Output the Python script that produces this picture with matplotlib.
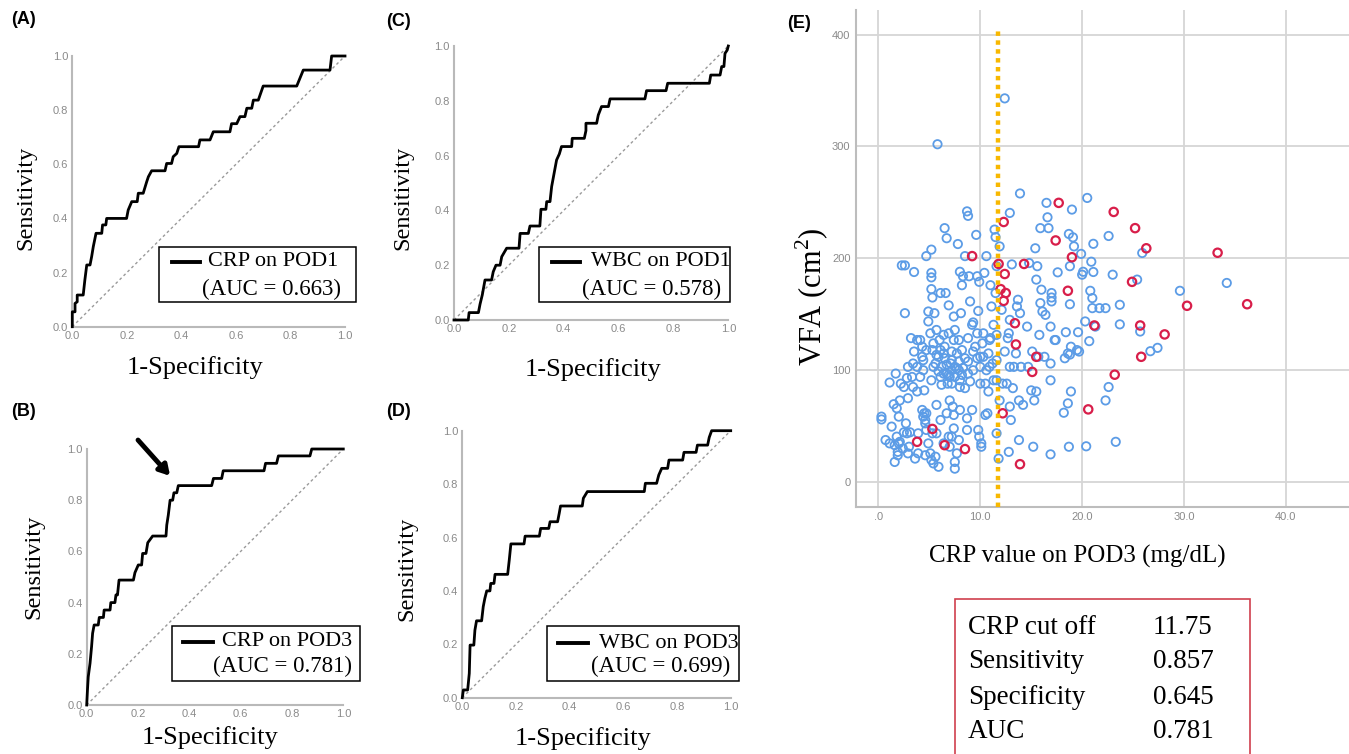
import matplotlib
matplotlib.use("Agg")
import matplotlib.pyplot as plt
from matplotlib.patches import Rectangle
from matplotlib.lines import Line2D

plt.rcParams['font.family'] = ['Liberation Serif', 'DejaVu Serif']
plt.rcParams['mathtext.fontset'] = 'custom'
plt.rcParams['mathtext.rm'] = 'Liberation Serif'

W, H = 1349, 754

# ROC curves (1-specificity, sensitivity)
fpr_a = [0, 0, 0.01, 0.01, 0.018, 0.018, 0.04, 0.046, 0.053, 0.065, 0.071, 0.077, 0.087, 0.108,
         0.111, 0.123, 0.126, 0.199, 0.205, 0.218, 0.238, 0.242, 0.26, 0.273, 0.279, 0.291,
         0.34, 0.346, 0.364, 0.37, 0.383, 0.391, 0.463, 0.468, 0.505, 0.517, 0.578, 0.584,
         0.603, 0.615, 0.633, 0.64, 0.658, 0.664, 0.682, 0.7, 0.823, 0.847, 0.945, 0.951, 1.0]
tpr_a = [0, 0.055, 0.055, 0.086, 0.092, 0.117, 0.117, 0.172, 0.228, 0.228, 0.259, 0.296, 0.345,
         0.345, 0.376, 0.376, 0.40, 0.40, 0.431, 0.462, 0.462, 0.493, 0.493, 0.536, 0.554, 0.576,
         0.576, 0.603, 0.603, 0.628, 0.64, 0.665, 0.665, 0.69, 0.69, 0.72, 0.72, 0.75, 0.75,
         0.776, 0.776, 0.807, 0.807, 0.837, 0.837, 0.889, 0.889, 0.948, 0.948, 1.0, 1.0]

fpr_c = [0, 0.052, 0.055, 0.089, 0.095, 0.103, 0.113, 0.137, 0.143, 0.153, 0.168, 0.174, 0.192,
         0.237, 0.241, 0.271, 0.277, 0.313, 0.317, 0.335, 0.338, 0.35, 0.356, 0.366, 0.374,
         0.384, 0.392, 0.429, 0.431, 0.475, 0.481, 0.481, 0.52, 0.526, 0.538, 0.563, 0.569,
         0.696, 0.702, 0.773, 0.779, 0.931, 0.936, 0.97, 0.976, 0.984, 0.988, 0.996, 1.0]
tpr_c = [0, 0, 0.027, 0.027, 0.058, 0.091, 0.146, 0.146, 0.176, 0.2, 0.2, 0.231, 0.262, 0.262,
         0.316, 0.316, 0.343, 0.343, 0.404, 0.404, 0.432, 0.432, 0.487, 0.541, 0.584, 0.606,
         0.633, 0.633, 0.663, 0.663, 0.691, 0.718, 0.718, 0.748, 0.779, 0.779, 0.807, 0.807,
         0.837, 0.837, 0.864, 0.864, 0.894, 0.894, 0.925, 0.925, 0.973, 0.985, 1.0]

fpr_b = [0, 0.003, 0.006, 0.013, 0.019, 0.023, 0.029, 0.045, 0.049, 0.065, 0.068, 0.091, 0.094,
         0.11, 0.114, 0.12, 0.126, 0.182, 0.188, 0.201, 0.214, 0.218, 0.231, 0.238, 0.257, 0.309,
         0.312, 0.318, 0.325, 0.335, 0.34, 0.351, 0.357, 0.487, 0.494, 0.526, 0.532, 0.691,
         0.697, 0.74, 0.747, 0.87, 0.877, 1.0]
tpr_b = [0, 0.059, 0.11, 0.163, 0.228, 0.28, 0.3125, 0.3125, 0.342, 0.342, 0.371, 0.371, 0.40,
         0.40, 0.43, 0.43, 0.488, 0.488, 0.517, 0.547, 0.547, 0.592, 0.592, 0.634, 0.66, 0.66,
         0.703, 0.742, 0.80, 0.80, 0.829, 0.829, 0.857, 0.857, 0.885, 0.885, 0.915, 0.915,
         0.944, 0.944, 0.973, 0.973, 1.0, 1.0]

fpr_d = [0, 0.004, 0.02, 0.026, 0.029, 0.043, 0.047, 0.053, 0.072, 0.078, 0.084, 0.091, 0.103,
         0.106, 0.118, 0.122, 0.169, 0.175, 0.181, 0.23, 0.234, 0.287, 0.292, 0.322, 0.327,
         0.355, 0.361, 0.366, 0.447, 0.451, 0.466, 0.678, 0.682, 0.724, 0.732, 0.743, 0.765,
         0.77, 0.821, 0.826, 0.871, 0.876, 0.914, 0.92, 0.929, 1.0]
tpr_d = [0, 0.029, 0.029, 0.091, 0.197, 0.197, 0.253, 0.288, 0.288, 0.341, 0.372, 0.40, 0.40,
         0.428, 0.428, 0.462, 0.462, 0.516, 0.576, 0.576, 0.605, 0.605, 0.634, 0.634, 0.659,
         0.659, 0.69, 0.718, 0.718, 0.747, 0.772, 0.772, 0.803, 0.803, 0.834, 0.859, 0.859,
         0.89, 0.89, 0.919, 0.919, 0.946, 0.946, 0.975, 1.0, 1.0]

roc_labels = ['CRP on POD1', 'WBC on POD1', 'CRP on POD3', 'WBC on POD3']
roc_aucs = ['0.663', '0.578', '0.781', '0.699']
roc_ticks = [0.0, 0.2, 0.4, 0.6, 0.8, 1.0]

# scatter: CRP on POD3 vs VFA
crp_blue = [0.3, 0.3, 0.7, 1.1, 1.1, 1.3, 1.5, 1.7, 1.6, 1.8, 1.8, 2.0, 1.6, 1.9, 2.0, 1.9,
            2.2, 2.3, 2.6, 2.6, 2.1, 2.5, 2.7, 2.8, 2.9, 2.8, 2.9, 3.0, 2.9, 3.2, 3.3, 3.4, 3.4,
            3.5, 3.6, 3.5, 3.8, 3.8, 3.8, 3.9, 3.9, 2.5, 3.1, 2.1, 2.4,
            4.1, 4.3, 4.3, 4.4, 4.4, 4.5, 4.6, 4.3, 4.7, 4.6, 4.5, 4.6, 4.7, 4.9, 4.9, 4.7, 4.9,
            5.1, 5.2, 5.2, 5.2, 5.2, 5.3, 5.5, 5.3, 5.4, 5.2, 5.6, 5.3, 5.4, 5.2, 5.6, 5.7, 5.8,
            5.9, 6.0, 5.9, 5.9,
            6.1, 6.4, 6.5, 6.6, 6.7, 6.7, 6.9, 6.9, 6.8, 6.9, 7.0, 7.0, 7.1, 7.2, 7.2, 7.3, 7.4,
            7.4, 7.5, 7.5, 7.5, 7.5, 7.7, 7.8, 7.9, 7.9, 8.0, 7.7, 7.4, 7.2, 7.0, 6.7, 6.4, 6.2,
            6.4, 6.5, 8.0, 7.9, 7.7,
            8.0, 8.1, 8.2, 8.3, 8.5, 8.7, 8.7, 8.7, 8.8, 8.9, 8.8, 8.8, 9.0, 9.0, 9.2, 9.2, 9.3,
            9.3, 9.5, 9.6, 9.7, 9.8, 9.8, 9.9, 10.0, 10.0, 9.9, 9.7, 8.5, 8.3, 8.2,
            10.1, 10.1, 10.2, 10.3, 10.4, 10.5, 10.6, 10.7, 10.8, 10.9, 11.0, 11.0, 11.1, 11.2,
            11.3, 11.4, 11.5, 11.5, 11.6, 11.6, 11.6, 11.6, 11.8, 11.6, 11.3,
            11.9, 11.9, 12.1, 12.2, 12.4, 12.4, 12.6, 12.7, 12.8, 12.8, 12.9, 12.9, 12.9, 12.9,
            13.0, 13.1, 13.2, 13.3, 13.5, 13.6, 13.8, 13.8, 13.9, 13.9, 14.0, 13.7,
            14.2, 14.6, 14.7, 14.8, 15.0, 15.1, 15.2, 15.3, 15.4, 15.5, 15.5, 15.6, 15.7, 15.8,
            15.9, 16.0, 16.1, 16.3, 16.4, 16.5, 16.6, 16.7, 16.9, 16.9, 16.9, 17.0, 17.0, 17.0,
            15.9, 16.9,
            17.3, 17.4, 17.6, 18.2, 18.3, 18.4, 18.6, 18.6, 18.7, 18.8, 18.8, 18.8, 18.9, 18.9,
            18.7, 19.0, 19.1, 19.2, 19.5, 19.6, 19.7, 19.9, 20.0,
            20.1, 20.3, 20.4, 20.5, 20.7, 20.8, 20.9, 21.0, 21.0, 21.1, 21.1, 21.3, 21.7, 22.3,
            22.3, 22.6, 22.6, 23.0, 23.3, 23.7, 23.7,
            25.4, 25.7, 25.9, 26.7, 27.4, 29.6, 34.2,
            5.7, 6.1, 6.2, 6.5, 6.9, 7.2, 7.5, 7.9, 8.2, 8.5, 8.8, 9.3, 9.7, 10.3, 10.6, 10.9,
            5.1, 5.4, 5.7, 6.1, 4.1, 4.4, 4.7, 10.0, 10.5, 10.8, 6.7, 7.4, 6.1, 5.7, 6.4, 7.2, 8.0]
vfa_blue = [58.5, 56, 37.6, 89, 34.6, 49.6, 69.6, 97, 18, 66, 40.6, 34.6, 33, 27, 58.5, 24,
            88, 193.7, 193.7, 151, 73, 85, 52.5, 43.6, 103, 93, 75, 31.6, 25.7, 128.7, 94, 106, 85,
            116.7, 21, 187.8, 127, 103, 81, 43.6, 25.7, 44.5, 44.5, 36, 30,
            127, 121, 112, 100, 58.5, 61.5, 55.5, 64.5, 61.5, 52.5, 82, 24, 202, 143.6, 152.5,
            46.6, 34.6, 25.7, 207.8, 187, 183, 172.5, 165, 151, 118, 103, 91, 106, 43.6, 16.7,
            19.7, 22.7, 69, 302, 99, 127, 112, 13.7,
            169, 115, 227, 169, 218, 105, 158, 133, 88, 40.6, 31.6, 73, 106, 88, 100, 67.5, 148,
            48, 12, 18, 136, 103, 101.8, 212.8, 127, 100, 85, 115, 127, 116.7, 94, 97, 97, 87,
            131.6, 121, 91, 37.6, 25.7,
            188, 151, 176, 184, 202, 57, 46.6, 242, 238, 184, 107.8, 128.7, 161.5, 90, 64.5,
            140.6, 142.7, 100, 121, 221, 184, 153, 46.6, 40.6, 103, 112, 179, 133, 84, 102, 118,
            34.6, 31.6, 124, 133, 187, 60, 202, 61.5, 115, 127, 176, 128.7, 157, 106, 91, 225.7,
            219, 169, 193, 43.6, 131.6, 91, 21, 109, 140.6,
            210.7, 73, 154, 88, 343, 116.7, 88, 128.7, 133, 27, 67.5, 240.6, 145, 103, 55.5,
            194.6, 84, 103, 115, 157, 73, 37.6, 258, 151, 103, 163,
            69, 139, 103, 195.8, 82, 116.7, 31.6, 73, 209, 181, 81, 193, 112, 131.6, 160, 172,
            152.5, 112, 149.5, 249.6, 236.7, 227, 139, 24.8, 91, 169, 165, 161.5, 227, 106,
            127, 127, 187.5, 62, 110.7, 134, 70.4, 115, 221.8, 114, 193, 159, 81, 121, 31.6,
            243.6, 218.8, 210.7, 118, 134, 116.7, 204, 185.4,
            188, 143.6, 32, 254, 126, 171, 197, 164.5, 155.5, 187.8, 213, 139, 155.5, 155.5, 73,
            220, 85, 185.4, 36, 158.5, 141,
            181, 134.6, 204.8, 117, 120, 171, 178,
            113.7, 118, 103, 110.7, 95.8, 109, 94, 107.8, 95.8, 110.7, 97, 116.7, 110.7, 112,
            100, 103, 133, 124, 136, 94, 94, 109, 118, 88, 88, 81, 61.5, 60, 55.5, 43.6, 34.6,
            40.6, 64.5]

crp_red = [17.7, 23.1, 12.3, 25.2, 26.3, 33.3, 9.2, 19.0, 17.4, 11.8, 14.3, 12.4, 24.9, 12.0,
           12.5, 12.3, 18.6, 30.3, 36.2, 13.4, 21.2, 25.7, 28.1, 13.5, 15.5, 25.8, 15.1, 23.2,
           20.6, 12.2, 5.3, 3.8, 6.5, 8.5, 13.9]
vfa_red = [249.6, 241.5, 232.5, 227, 209, 205, 202, 201, 216, 195, 195, 186, 179, 172.5, 169,
           162, 171, 157.6, 159, 142, 140, 140, 132, 123, 112, 112, 98.5, 96, 65, 61.5, 47.5,
           36, 33, 29.5, 16]

crp_cutoff = 11.75
table_names = ['CRP cut off', 'Sensitivity', 'Specificity', 'AUC']
table_values = ['11.75', '0.857', '0.645', '0.781']

fig = plt.figure(figsize=(W / 100, H / 100), dpi=100)


def px_axes(l, t, r, b):
    return fig.add_axes([l / W, 1 - b / H, (r - l) / W, (b - t) / H])


def fx(x):
    return x / W


def fy(y):
    return 1 - y / H


def roc_panel(box, fpr, tpr):
    ax = px_axes(*box)
    ax.plot([0, 1], [0, 1], color='#9a9a9a', lw=1, ls=(0, (2, 2)))
    ax.plot(fpr, tpr, color='black', lw=2.0, clip_on=False, zorder=3)
    ax.set_xlim(0, 1)
    ax.set_ylim(0, 1)
    ax.set_xticks(roc_ticks)
    ax.set_yticks(roc_ticks)
    ax.set_xticklabels([f'{t:.1f}' for t in roc_ticks])
    ax.set_yticklabels([f'{t:.1f}' for t in roc_ticks])
    for s in ['top', 'right']:
        ax.spines[s].set_visible(False)
    for s in ['left', 'bottom']:
        ax.spines[s].set_color('#b9b9b9')
        ax.spines[s].set_linewidth(1.5)
    ax.tick_params(length=0, labelsize=8, labelcolor='#8a8a8a', pad=3)
    for lab in ax.get_xticklabels() + ax.get_yticklabels():
        lab.set_family('Liberation Sans')
    return ax


def legend_box(box, line, t1, t2, label, auc):
    x0, y0, x1, y1 = box
    fig.add_artist(Rectangle((fx(x0), fy(y1)), (x1 - x0) / W, (y1 - y0) / H,
                             transform=fig.transFigure, facecolor='white',
                             edgecolor='black', lw=1.1, zorder=5))
    lx0, lx1, ly = line
    fig.add_artist(Line2D([fx(lx0), fx(lx1)], [fy(ly), fy(ly)], transform=fig.transFigure,
                          color='black', lw=2.8, zorder=6))
    fig.text(fx(t1[0]), fy(t1[1]), label, fontsize=16, ha='left', va='center', zorder=6)
    fig.text(fx(t2[0]), fy(t2[1]), f'(AUC = {auc})', fontsize=16.5, ha='left', va='center',
             zorder=6)


panels = [
    dict(box=(72.3, 56, 345, 326.7), fpr=fpr_a, tpr=tpr_a, tag='(A)', tagpos=(11, 20),
         leg=(159, 247, 356, 302), line=(172, 200, 262), t1=(208, 262), t2=(202, 289),
         ylab=(26, 198), xlab=(195, 368)),
    dict(box=(454, 46, 728.3, 320), fpr=fpr_c, tpr=tpr_c, tag='(C)', tagpos=(386, 21),
         leg=(539, 247, 730, 302), line=(552, 580, 262), t1=(591, 262), t2=(582, 289),
         ylab=(403, 198), xlab=(593, 370)),
    dict(box=(86.7, 449, 343.3, 705), fpr=fpr_b, tpr=tpr_b, tag='(B)', tagpos=(11, 412),
         leg=(172, 626, 360, 681), line=(183, 213, 642), t1=(222, 642), t2=(213, 666),
         ylab=(34, 567), xlab=(210, 738)),
    dict(box=(462.3, 430.7, 730.7, 697.7), fpr=fpr_d, tpr=tpr_d, tag='(D)', tagpos=(386, 411),
         leg=(547, 626, 739, 681), line=(558, 588, 643), t1=(599, 643), t2=(591, 666),
         ylab=(407, 569), xlab=(583, 739)),
]

for i, p in enumerate(panels):
    ax = roc_panel(p['box'], p['fpr'], p['tpr'])
    legend_box(p['leg'], p['line'], p['t1'], p['t2'], roc_labels[i], roc_aucs[i])
    fig.text(fx(p['tagpos'][0]), fy(p['tagpos'][1]), p['tag'], family='Liberation Sans',
             fontweight='bold', fontsize=13, ha='left', va='center')
    fig.text(fx(p['ylab'][0]), fy(p['ylab'][1]), 'Sensitivity', fontsize=17.5, rotation=90,
             ha='center', va='center')
    fig.text(fx(p['xlab'][0]), fy(p['xlab'][1]), '1-Specificity', fontsize=19,
             ha='center', va='center')
    if p['tag'] == '(B)':
        ax.annotate('', xy=(0.325, 0.895), xytext=(0.2, 1.035),
                    arrowprops=dict(arrowstyle='-|>,head_length=0.6,head_width=0.35',
                                    lw=3.5, color='black', shrinkA=0, shrinkB=0),
                    annotation_clip=False)

# panel E
ax = px_axes(856, 10, 1349, 506.7)
ax.set_xlim(-2.2, 46.2)
ax.set_ylim(-22, 422)
ax.set_xticks([0, 10, 20, 30, 40])
ax.set_xticklabels(['.0', '10.0', '20.0', '30.0', '40.0'])
ax.set_yticks([0, 100, 200, 300, 400])
ax.grid(True, color='#d6d6d6', lw=1.3)
ax.set_axisbelow(True)
for s in ['top', 'right']:
    ax.spines[s].set_visible(False)
for s in ['left', 'bottom']:
    ax.spines[s].set_color('#bdbdbd')
    ax.spines[s].set_linewidth(1.5)
ax.tick_params(length=0, labelsize=8, labelcolor='#8a8a8a', pad=4)
for lab in ax.get_xticklabels() + ax.get_yticklabels():
    lab.set_family('Liberation Sans')
ax.scatter(crp_blue, vfa_blue, s=36, facecolors='none', edgecolors='#5c9ce6', linewidths=1.3,
           zorder=3)
ax.scatter(crp_red, vfa_red, s=36, facecolors='none', edgecolors='#d81e4a', linewidths=1.6,
           zorder=4)
ax.vlines(crp_cutoff, -22, 405, colors='#f8b800', lw=3.2, linestyles=(0, (1, 1)), zorder=5)

fig.text(fx(787), fy(24), '(E)', family='Liberation Sans', fontweight='bold', fontsize=13,
         ha='left', va='center')
fig.text(fx(812), fy(297), 'VFA (cm$^{\\mathregular{2}}$)', fontsize=22, rotation=90,
         ha='center', va='center')
fig.text(fx(1077), fy(556), 'CRP value on POD3 (mg/dL)', fontsize=18, ha='center',
         va='center')

fig.add_artist(Rectangle((fx(955), fy(775)), (1250 - 955) / W, (775 - 599) / H,
                         transform=fig.transFigure, facecolor='none', edgecolor='#d0404e',
                         lw=1.2))
row_y = [627, 662, 698, 732]
for name, val, yy in zip(table_names, table_values, row_y):
    fig.text(fx(968), fy(yy), name, fontsize=19.5, ha='left', va='center')
    fig.text(fx(1153), fy(yy), val, fontsize=19.5, ha='left', va='center')

fig.savefig('out.png', dpi=100)
